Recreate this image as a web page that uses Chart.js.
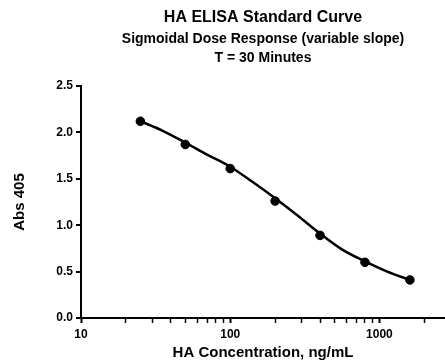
<!DOCTYPE html>
<html>
<head>
<meta charset="utf-8">
<script src="https://cdn.jsdelivr.net/npm/chart.js@4.4.1/dist/chart.umd.min.js"></script>
<style>
	body { margin: 0; background: #fff; }
	#wrap { width: 445px; height: 364px; }
</style>
</head>
<body>
<div id="wrap"><canvas id="myChart" width="445" height="364"></canvas></div>
<script>
// standards (ng/mL) and measured absorbance
const concentrations = [25, 50, 100, 200, 400, 800, 1600];
const absValues = [2.12, 1.87, 1.61, 1.26, 0.89, 0.60, 0.41];

// fitted sigmoid curve
const curveX = [25, 35, 50, 70, 100, 140, 200, 280, 400, 560, 800, 1130, 1600];
const curveY = [2.12, 2.02, 1.89, 1.76, 1.63, 1.47, 1.29, 1.11, 0.91, 0.74, 0.61, 0.50, 0.41];

const xLabels = [10, 100, 1000];
const yTicks = [0, 0.5, 1.0, 1.5, 2.0, 2.5];

const FONT = "Arial, 'Liberation Sans', sans-serif";
Chart.defaults.color = "#000";
Chart.defaults.font.family = FONT;

const isNice = (v) => {
	const m = v / Math.pow(10, Math.floor(Math.log10(v) + 1e-9));
	return Math.abs(m - Math.round(m)) < 1e-6;
};
const isDecade = (v) => xLabels.some((d) => Math.abs(d - v) < 1e-6);

const ctx = document.getElementById("myChart");

new Chart(ctx, {
	type: "scatter",
	data: {
		datasets: [
			{
				label: "Standards",
				data: concentrations.map((c, i) => ({ x: c, y: absValues[i] })),
				backgroundColor: "#000",
				borderColor: "#000",
				pointRadius: 4.3,
				showLine: false,
				order: 0,
			},
			{
				label: "Fit",
				data: curveX.map((c, i) => ({ x: c, y: curveY[i] })),
				borderColor: "#000",
				borderWidth: 2.5,
				pointRadius: 0,
				showLine: true,
				cubicInterpolationMode: "monotone",
				order: 1,
			},
		],
	},
	options: {
		responsive: false,
		animation: false,
		layout: { autoPadding: false, padding: 0 },
		plugins: {
			legend: { display: false },
			tooltip: { enabled: false },
			title: {
				display: true,
				text: "HA ELISA Standard Curve",
				fullSize: false,
				font: { size: 16, weight: "bold", lineHeight: 1.2 },
				padding: { top: 8, bottom: 2 },
			},
			subtitle: {
				display: true,
				text: ["Sigmoidal Dose Response (variable slope)", "T = 30 Minutes"],
				fullSize: false,
				color: "#000",
				font: { size: 14, weight: "bold", lineHeight: 1.4 },
				padding: { top: 0, bottom: 17.6 },
			},
		},
		scales: {
			x: {
				type: "logarithmic",
				min: 10,
				max: 2750,
				border: { display: true, color: "#000", width: 2 },
				grid: {
					drawOnChartArea: false,
					drawTicks: true,
					tickLength: 5,
					tickColor: (c) => (c.tick && isNice(c.tick.value) ? "#000" : "rgba(0,0,0,0)"),
					tickWidth: (c) => (c.tick && isDecade(c.tick.value) ? 2 : 1.5),
				},
				ticks: {
					autoSkip: false,
					maxRotation: 0,
					padding: 4,
					font: { size: 12, weight: "bold" },
					callback: (v) => (isDecade(v) ? String(Math.round(v)) : ""),
				},
				title: {
					display: true,
					text: "HA Concentration, ng/mL",
					font: { size: 15, weight: "bold", lineHeight: 1.2 },
					padding: { top: 0, bottom: 2 },
				},
				afterFit: (s) => {
					s.height = 46;
					s.paddingRight = 0;
				},
			},
			y: {
				min: 0,
				max: 2.5,
				border: { display: true, color: "#000", width: 2 },
				grid: {
					drawOnChartArea: false,
					drawTicks: true,
					tickLength: 5,
					tickColor: "#000",
					lineWidth: 2,
				},
				afterBuildTicks: (s) => { s.ticks = yTicks.map((v) => ({ value: v })); },
				ticks: {
					padding: 3,
					font: { size: 12, weight: "bold" },
					callback: (v) => Number(v).toFixed(1),
				},
				title: {
					display: true,
					text: "Abs 405",
					font: { size: 15, weight: "bold", lineHeight: 1.2 },
					padding: { top: 11, bottom: 0 },
				},
				afterFit: (s) => { s.width = 81; },
			},
		},
	},
});
</script>
</body>
</html>
